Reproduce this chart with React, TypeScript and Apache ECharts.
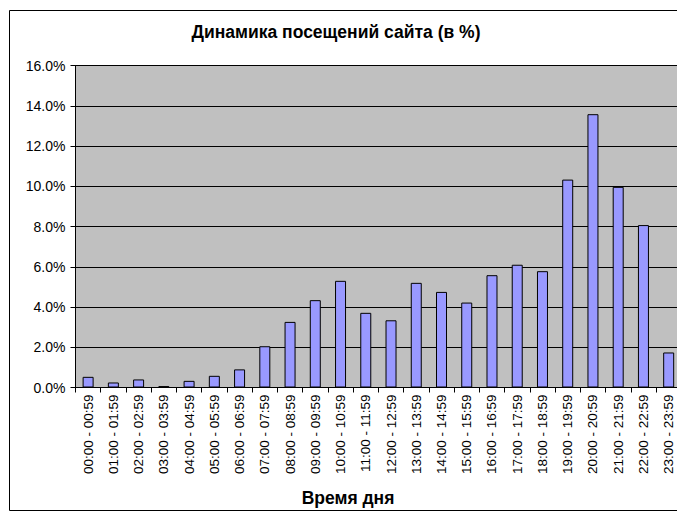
import React, { useEffect, useRef } from "react";
import * as echarts from "echarts";

const categories = [
  "00:00 - 00:59", "01:00 - 01:59", "02:00 - 02:59", "03:00 - 03:59",
  "04:00 - 04:59", "05:00 - 05:59", "06:00 - 06:59", "07:00 - 07:59",
  "08:00 - 08:59", "09:00 - 09:59", "10:00 - 10:59", "11:00 - 11:59",
  "12:00 - 12:59", "13:00 - 13:59", "14:00 - 14:59", "15:00 - 15:59",
  "16:00 - 16:59", "17:00 - 17:59", "18:00 - 18:59", "19:00 - 19:59",
  "20:00 - 20:59", "21:00 - 21:59", "22:00 - 22:59", "23:00 - 23:59",
];

const visits = [
  0.53, 0.25, 0.4, 0.07, 0.33, 0.58, 0.9, 2.05, 3.26, 4.34, 5.3, 3.71,
  3.34, 5.2, 4.75, 4.22, 5.58, 6.1, 5.78, 10.33, 13.58, 9.97, 8.07, 1.74,
];

const titleText = "Динамика посещений сайта (в %)";
const xAxisTitle = "Время дня";
const yMax = 16;
const yStep = 2;

const FONT = "Arial, 'Liberation Sans', sans-serif";

export default function App() {
  const ref = useRef<HTMLDivElement>(null);
  useEffect(() => {
    if (!ref.current) return;
    const chart = echarts.init(ref.current, undefined, { renderer: "svg" });
    chart.setOption({
      animation: false,
      backgroundColor: "#ffffff",
      textStyle: { fontFamily: FONT },
      graphic: [
        {
          type: "rect",
          shape: { x: 9.5, y: 10.5, width: 720, height: 500 },
          style: { fill: "none", stroke: "#000", lineWidth: 1 },
          z: 100,
        },
        {
          type: "text",
          x: 336,
          y: 31.5,
          style: {
            text: titleText,
            font: `bold 17.5px ${FONT}`,
            fill: "#000",
            align: "center",
            verticalAlign: "middle",
          },
        },
        {
          type: "text",
          x: 348,
          y: 497.5,
          style: {
            text: xAxisTitle,
            font: `bold 17.5px ${FONT}`,
            fill: "#000",
            align: "center",
            verticalAlign: "middle",
          },
        },
      ],
      grid: {
        left: 75.5,
        top: 65.5,
        width: 605.8,
        height: 322,
        show: true,
        backgroundColor: "#C0C0C0",
        borderColor: "#808080",
        borderWidth: 1,
      },
      xAxis: {
        type: "category",
        data: categories,
        axisLine: { show: true, lineStyle: { color: "#000", width: 1 } },
        axisTick: { show: true, alignWithLabel: false, length: 5, lineStyle: { color: "#000" } },
        axisLabel: {
          rotate: 90,
          interval: 0,
          margin: 7,
          fontSize: 13.5,
          fontFamily: FONT,
          color: "#000",
        },
        splitLine: { show: false },
      },
      yAxis: {
        type: "value",
        min: 0,
        max: yMax,
        interval: yStep,
        axisLine: { show: true, lineStyle: { color: "#000", width: 1 } },
        axisTick: { show: true, length: 5, lineStyle: { color: "#000" } },
        axisLabel: {
          formatter: (v: number) => `${v.toFixed(1)}%`,
          margin: 10,
          fontSize: 14,
          fontFamily: FONT,
          color: "#000",
        },
        splitLine: { show: true, lineStyle: { color: "#000", width: 1 } },
      },
      series: [
        {
          type: "bar",
          data: visits,
          barWidth: 11,
          itemStyle: { color: "#9999FF", borderColor: "#000", borderWidth: 1 },
        },
      ],
    });
    return () => chart.dispose();
  }, []);
  return (
    <div style={{ position: "absolute", left: 0, top: 0, width: 677, height: 512, overflow: "hidden" }}>
      <div ref={ref} style={{ width: 730, height: 512 }} />
    </div>
  );
}
